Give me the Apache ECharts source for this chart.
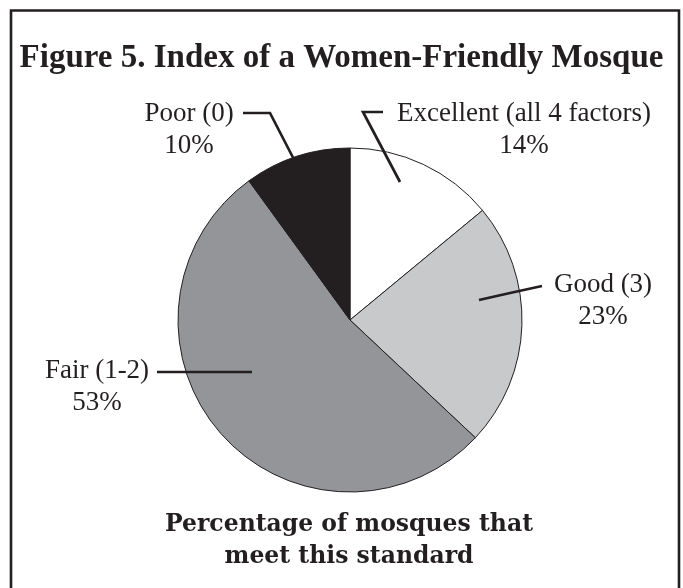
<!DOCTYPE html>
<html>
<head>
<meta charset="utf-8">
<script src="https://cdn.jsdelivr.net/npm/echarts@6/dist/echarts.min.js"></script>
<style>
html,body{margin:0;padding:0;background:#fff;}
#chart{width:683px;height:588px;}
</style>
</head>
<body>
<div id="chart"></div>
<script>
// ---- data ----
const categories = ['Excellent (all 4 factors)', 'Good (3)', 'Fair (1-2)', 'Poor (0)'];
const percentages = [14, 23, 53, 10];
const sliceColors = ['#ffffff', '#c8c9cb', '#939598', '#231f20'];
const titleText = 'Figure 5. Index of a Women-Friendly Mosque';
const footerText = 'Percentage of mosques that\nmeet this standard';

// ---- annotation layout (label centers and leader lines) ----
const labelPos = [[524, 130], [603, 301], [97, 387], [189, 130]];
const leaderLines = [
  [[400, 182], [363, 112], [383, 112]],
  [[479, 300], [510, 293], [542, 286]],
  [[252, 372], [200, 372], [157, 372]],
  [[302, 175], [270, 113], [243, 113]]
];

const ink = '#231f20';
const chart = echarts.init(document.getElementById('chart'), null, {renderer: 'canvas'});

const pieBase = {
  type: 'pie',
  center: [350, 320],
  radius: 172,
  startAngle: 90,
  clockwise: true,
  avoidLabelOverlap: false,
  emphasis: {disabled: true}
};

chart.setOption({
  backgroundColor: '#ffffff',
  animation: false,
  title: {
    text: titleText,
    left: 'center',
    top: 42,
    padding: 0,
    textStyle: {
      fontFamily: 'Liberation Serif',
      fontWeight: 'bold',
      fontSize: 33,
      color: ink
    }
  },
  graphic: [
    {
      type: 'polyline',
      shape: {points: [[11, 600], [11, 10.5], [679, 10.5], [679, 600]]},
      style: {stroke: ink, lineWidth: 2.6, fill: null}
    },
    {
      type: 'text',
      style: {
        text: footerText,
        x: 349, y: 541,
        textAlign: 'center',
        textVerticalAlign: 'middle',
        font: 'bold 23.5px "DejaVu Serif"',
        lineHeight: 32,
        fill: ink
      }
    }
  ],
  series: [
    Object.assign({}, pieBase, {
      z: 2,
      itemStyle: {borderColor: ink, borderWidth: 1},
      label: {show: false},
      labelLine: {show: false},
      data: categories.map((name, i) => ({
        name: name,
        value: percentages[i],
        itemStyle: {color: sliceColors[i]}
      }))
    }),
    Object.assign({}, pieBase, {
      z: 3,
      silent: true,
      itemStyle: {color: 'rgba(0,0,0,0)', borderWidth: 0},
      label: {
        show: true,
        position: 'outside',
        formatter: '{b}\n{c}%',
        fontFamily: 'Liberation Serif',
        fontSize: 27,
        lineHeight: 32,
        color: ink,
        align: 'center'
      },
      labelLine: {
        show: true,
        showAbove: true,
        length: 10,
        length2: 10,
        lineStyle: {color: ink, width: 2.7}
      },
      labelLayout: function (params) {
        const i = params.dataIndex;
        return {
          x: labelPos[i][0],
          y: labelPos[i][1],
          align: 'center',
          verticalAlign: 'middle',
          labelLinePoints: leaderLines[i]
        };
      },
      data: categories.map((name, i) => ({
        name: name,
        value: percentages[i]
      }))
    })
  ]
});
</script>
</body>
</html>
